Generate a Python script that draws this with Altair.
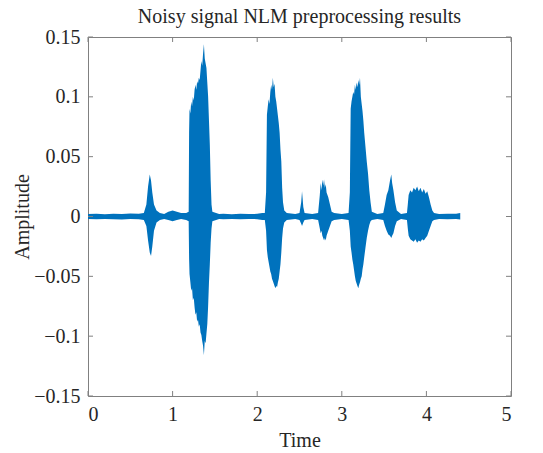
import altair as alt
import pandas as pd

# Envelope of the waveform (time in s, upper / lower amplitude)
times = [0.00, 0.10, 0.20, 0.30, 0.40, 0.50, 0.60, 0.66, 0.69, 0.71, 0.73, 0.745, 0.76, 0.78, 0.81, 0.85,
         0.90, 0.95, 1.00, 1.05, 1.10, 1.16,
         1.19, 1.195, 1.20, 1.21, 1.22, 1.23, 1.24, 1.25, 1.26, 1.27, 1.28, 1.29, 1.30, 1.31, 1.32, 1.33,
         1.34, 1.35, 1.36, 1.37, 1.38, 1.39, 1.40, 1.41, 1.42, 1.43, 1.44, 1.45, 1.46, 1.47,
         1.55, 1.60, 1.70, 1.80, 1.90, 2.00, 2.06,
         2.09, 2.105, 2.115, 2.125, 2.135, 2.145, 2.155, 2.165, 2.175, 2.185, 2.195, 2.205, 2.215, 2.225,
         2.235, 2.245, 2.255, 2.265, 2.275, 2.285, 2.295, 2.305, 2.32, 2.35,
         2.45, 2.50, 2.52, 2.53, 2.545, 2.56, 2.65,
         2.72, 2.74, 2.75, 2.76, 2.77, 2.78, 2.79, 2.80, 2.81, 2.82, 2.84, 2.86, 2.88, 2.91, 3.00,
         3.08, 3.095, 3.105, 3.115, 3.125, 3.135, 3.145, 3.155, 3.165, 3.175, 3.185, 3.195, 3.205, 3.215,
         3.225, 3.235, 3.245, 3.255, 3.265, 3.28, 3.295, 3.31, 3.325, 3.34, 3.355,
         3.42, 3.49, 3.51, 3.53, 3.55, 3.57, 3.585, 3.595, 3.61, 3.63, 3.65, 3.70,
         3.77, 3.78, 3.79, 3.81, 3.83, 3.85, 3.87, 3.89, 3.91, 3.93, 3.95, 3.97, 3.99, 4.01, 4.03, 4.05,
         4.07, 4.09, 4.15, 4.25, 4.35, 4.40]
upper = [0.002, 0.0022, 0.0018, 0.0024, 0.002, 0.0026, 0.0022, 0.003, 0.010, 0.025, 0.035, 0.030, 0.020, 0.010, 0.005, 0.003,
         0.002, 0.004, 0.005, 0.004, 0.003, 0.003,
         0.004, 0.070, 0.090, 0.086, 0.096, 0.092, 0.100, 0.097, 0.106, 0.110, 0.106, 0.113, 0.111, 0.116, 0.114, 0.122,
         0.130, 0.126, 0.136, 0.144, 0.132, 0.128, 0.124, 0.112, 0.100, 0.080, 0.060, 0.030, 0.010, 0.004,
         0.002, 0.0022, 0.0018, 0.0022, 0.002, 0.0022, 0.003,
         0.003, 0.020, 0.085, 0.092, 0.098, 0.094, 0.104, 0.110, 0.106, 0.116, 0.108, 0.111, 0.100, 0.096,
         0.090, 0.084, 0.078, 0.070, 0.056, 0.046, 0.024, 0.012, 0.005, 0.003,
         0.002, 0.003, 0.012, 0.021, 0.008, 0.003, 0.002,
         0.003, 0.018, 0.028, 0.022, 0.031, 0.026, 0.031, 0.024, 0.027, 0.020, 0.016, 0.010, 0.004, 0.003, 0.002,
         0.003, 0.020, 0.090, 0.096, 0.100, 0.104, 0.102, 0.110, 0.106, 0.112, 0.108, 0.114, 0.110, 0.116,
         0.100, 0.094, 0.088, 0.080, 0.070, 0.058, 0.046, 0.036, 0.022, 0.012, 0.004,
         0.002, 0.003, 0.010, 0.018, 0.022, 0.030, 0.035, 0.028, 0.022, 0.012, 0.005, 0.002,
         0.003, 0.010, 0.018, 0.022, 0.020, 0.024, 0.022, 0.025, 0.021, 0.024, 0.020, 0.023, 0.019, 0.021, 0.016, 0.010,
         0.005, 0.003, 0.002, 0.0022, 0.0024, 0.003]
lower = [-0.002, -0.0024, -0.002, -0.0022, -0.0025, -0.002, -0.0024, -0.003, -0.008, -0.020, -0.030, -0.033, -0.025, -0.012, -0.005, -0.003,
         -0.002, -0.003, -0.004, -0.003, -0.002, -0.003,
         -0.004, -0.035, -0.048, -0.055, -0.062, -0.060, -0.070, -0.068, -0.076, -0.082, -0.080, -0.088, -0.086, -0.092, -0.090, -0.097,
         -0.099, -0.104, -0.108, -0.116, -0.104, -0.106, -0.098, -0.090, -0.075, -0.055, -0.040, -0.022, -0.010, -0.004,
         -0.002, -0.0022, -0.002, -0.0024, -0.002, -0.0022, -0.003,
         -0.003, -0.012, -0.028, -0.034, -0.038, -0.042, -0.046, -0.048, -0.052, -0.054, -0.056, -0.058, -0.060, -0.058,
         -0.059, -0.055, -0.052, -0.046, -0.040, -0.030, -0.018, -0.010, -0.005, -0.003,
         -0.002, -0.003, -0.006, -0.008, -0.005, -0.003, -0.002,
         -0.003, -0.010, -0.014, -0.012, -0.016, -0.018, -0.020, -0.018, -0.020, -0.016, -0.012, -0.008, -0.004, -0.003, -0.002,
         -0.003, -0.012, -0.025, -0.030, -0.036, -0.040, -0.045, -0.050, -0.054, -0.056, -0.058, -0.060, -0.057, -0.055,
         -0.052, -0.050, -0.044, -0.040, -0.034, -0.026, -0.018, -0.012, -0.007, -0.004, -0.003,
         -0.002, -0.003, -0.008, -0.012, -0.015, -0.016, -0.018, -0.016, -0.014, -0.008, -0.004, -0.002,
         -0.003, -0.010, -0.016, -0.019, -0.020, -0.021, -0.019, -0.022, -0.020, -0.021, -0.019, -0.020, -0.018, -0.016, -0.012, -0.008,
         -0.004, -0.003, -0.002, -0.0024, -0.002, -0.0025]

x_ticks = [0, 1, 2, 3, 4, 5]
y_ticks = [-0.15, -0.1, -0.05, 0, 0.05, 0.1, 0.15]

W, H = 423, 359
FONT = "Liberation Serif"
TXT = "#262626"
BOX = "#808080"
BLUE = "#0072BD"

df = pd.DataFrame({"t": times, "hi": upper, "lo": lower})
xt = pd.DataFrame({"t": x_ticks})
yt = pd.DataFrame({"hi": y_ticks})

xs = alt.Scale(domain=[0, 5], nice=False, zero=False)
ys = alt.Scale(domain=[-0.15, 0.15], nice=False, zero=False)

label_style = dict(labelFont=FONT, labelFontSize=20, labelColor=TXT,
                   titleFont=FONT, titleFontSize=20, titleFontWeight="normal", titleColor=TXT)

ax_x = alt.Axis(values=x_ticks, labelExpr="format(datum.value, 'd')", grid=False, domain=False,
                ticks=False, labelPadding=8, titlePadding=6, **label_style)
ax_y = alt.Axis(values=y_ticks, labelExpr="format(datum.value, '.2~f')", grid=False, domain=False,
                ticks=False, labelPadding=8, titlePadding=1, **label_style)

X = alt.X("t:Q", scale=xs, title="Time", axis=ax_x)
Y = alt.Y("hi:Q", scale=ys, title="Amplitude", axis=ax_y)

area = alt.Chart(df).mark_area(color=BLUE, interpolate="linear", opacity=1).encode(
    x=X, y=Y, y2="lo:Q",
)

tick_b = alt.Chart(xt).mark_rule(color=BOX, strokeWidth=1).encode(
    x=X, y=alt.value(H), y2=alt.value(H - 5))
tick_t = alt.Chart(xt).mark_rule(color=BOX, strokeWidth=1).encode(
    x=X, y=alt.value(0), y2=alt.value(5))
tick_l = alt.Chart(yt).mark_rule(color=BOX, strokeWidth=1).encode(
    y=Y, x=alt.value(0), x2=alt.value(5))
tick_r = alt.Chart(yt).mark_rule(color=BOX, strokeWidth=1).encode(
    y=Y, x=alt.value(W), x2=alt.value(W - 5))

chart = alt.layer(area, tick_b, tick_t, tick_l, tick_r).properties(
    width=W, height=H,
    background="white",
    title=alt.TitleParams("Noisy signal NLM preprocessing results", font=FONT, fontSize=20,
                          fontWeight="normal", color=TXT, offset=0),
    autosize=alt.AutoSizeParams(type="none"),
    padding={"left": 88, "top": 37, "right": 32, "bottom": 57},
).configure_view(stroke=BOX, strokeWidth=1)

chart.save("out.html", embed_options={"renderer": "svg", "actions": False})
